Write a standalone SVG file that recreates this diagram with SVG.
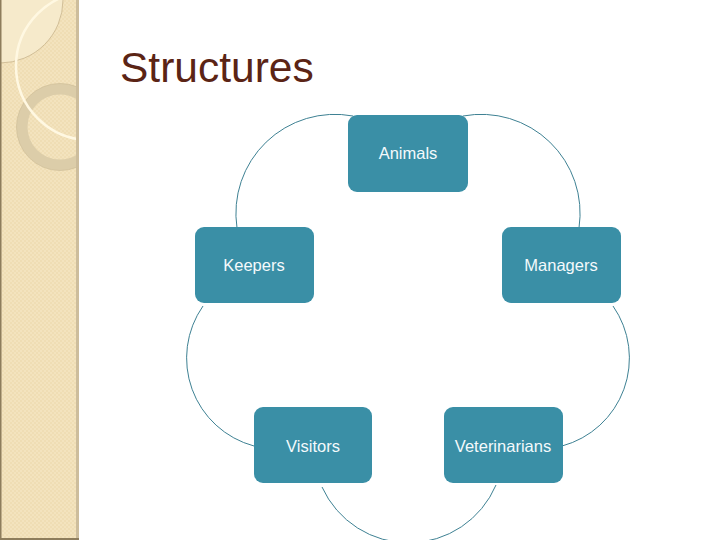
<svg xmlns="http://www.w3.org/2000/svg" width="720" height="540" viewBox="0 0 720 540">
<defs>
<style>
.node{fill:#3A8FA6;}
.lbl{font-family:"Liberation Sans",Arial,sans-serif;font-size:16.5px;fill:#F4FAFC;text-anchor:middle;}
.arc{fill:none;stroke:#3E8193;stroke-width:1;}
</style>
<pattern id="chk" width="4" height="4" patternUnits="userSpaceOnUse">
<rect width="4" height="4" fill="#F3E3BE"/>
<rect width="2" height="2" fill="#EFDDB4"/>
<rect x="2" y="2" width="2" height="2" fill="#EFDDB4"/>
</pattern>
<clipPath id="strip"><rect x="0" y="0" width="77" height="540"/></clipPath>
</defs>
<rect width="720" height="540" fill="#FFFFFF"/>
<g id="background">
<rect x="0" y="0" width="77" height="540" fill="url(#chk)"/>
<g clip-path="url(#strip)">
<path d="M0,0 L63,0 A63,63 0 0 1 0,63 Z" fill="#F6EACB"/>
<path d="M63,0 A63,63 0 0 1 0,63" fill="none" stroke="#C8B48C" stroke-width="0.8"/>
<circle cx="60" cy="127" r="38" fill="none" stroke="#DCCDA9" stroke-width="11"/>
<circle cx="60" cy="127" r="43.5" fill="none" stroke="#D2C29C" stroke-width="0.8"/>
<circle cx="90" cy="66" r="74" fill="none" stroke="#FFF8E2" stroke-width="2.5"/>
</g>
<rect x="76" y="0" width="3" height="540" fill="#CDBD9C"/>
<rect x="0" y="0" width="1.5" height="540" fill="#8E7D5C"/>
<rect x="0" y="538" width="79" height="2" fill="#8E7D5C"/>
</g>
<text id="title" x="120" y="82" font-family="'Liberation Sans',Arial,sans-serif" font-size="42.5" fill="#5B2415">Structures</text>
<g id="connectors">
<path class="arc" d="M353,116 A99,99 0 0 0 237,228"/>
<path class="arc" d="M463,116 A99,99 0 0 1 579,228"/>
<path class="arc" d="M203,306 A91,91 0 0 0 254,446"/>
<path class="arc" d="M613,306 A91,91 0 0 1 562,446"/>
<path class="arc" d="M322,487 A95,95 0 0 0 496,485"/>
</g>
<g id="node-animals">
<rect class="node" x="348" y="115" width="120" height="77" rx="9"/>
<text class="lbl" x="408" y="159">Animals</text>
</g>
<g id="node-keepers">
<rect class="node" x="195" y="227" width="119" height="76" rx="9"/>
<text class="lbl" x="254" y="271">Keepers</text>
</g>
<g id="node-managers">
<rect class="node" x="502" y="227" width="119" height="76" rx="9"/>
<text class="lbl" x="561" y="271">Managers</text>
</g>
<g id="node-visitors">
<rect class="node" x="254" y="407" width="118" height="76" rx="9"/>
<text class="lbl" x="313" y="452">Visitors</text>
</g>
<g id="node-veterinarians">
<rect class="node" x="444" y="407" width="119" height="76" rx="9"/>
<text class="lbl" x="503" y="452">Veterinarians</text>
</g>
</svg>
